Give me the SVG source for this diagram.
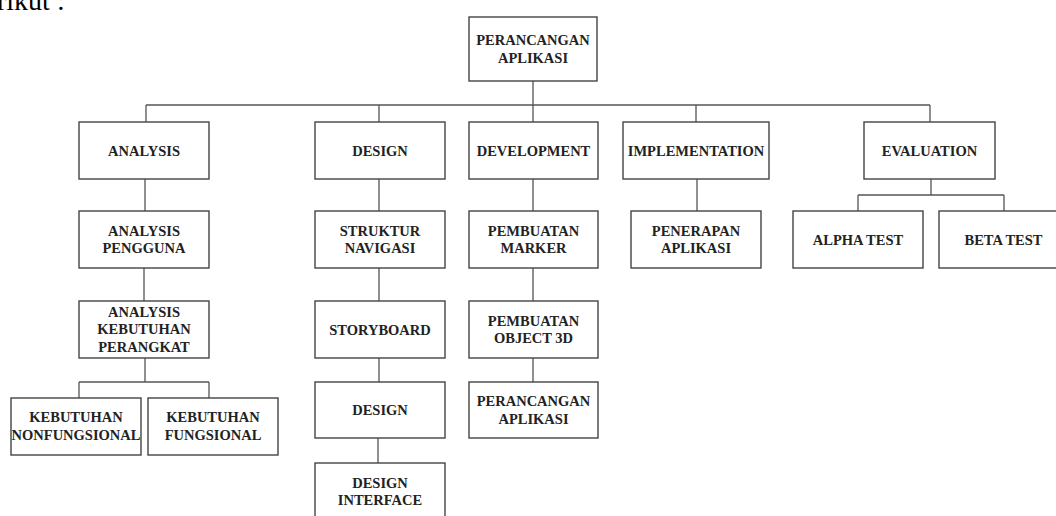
<svg xmlns="http://www.w3.org/2000/svg" width="1056" height="516" viewBox="0 0 1056 516">
<style>
.b{fill:#fff;stroke:#444;stroke-width:1.4}
.t{font-family:"Liberation Serif","Times New Roman",serif;font-weight:bold;font-size:14.5px;fill:#222;text-anchor:middle}
.c{fill:none;stroke:#555;stroke-width:1.3}
.p{font-family:"Liberation Serif","Times New Roman",serif;font-size:28px;fill:#000}
</style>
<rect width="1056" height="516" fill="#fff"/>
<text class="p" x="-3" y="10">rikut :</text>
<g id="connectors">
<path class="c" d="M533 81V105M146 105H930M146 105V122M379 105V122M533 105V122M696 105V122M930 105V122"/>
<path class="c" d="M145 179V211M144 268V301M145 358V382M79 382H209M79 382V398M209 382V398"/>
<path class="c" d="M379 179V211M379 268V301M379 358V382M378 438V463"/>
<path class="c" d="M533 179V211M533 268V301M533 358V382"/>
<path class="c" d="M697 179V211"/>
<path class="c" d="M931 179V195M858 195H1004M858 195V211M1004 195V211"/>
</g>
<g id="root"><rect class="b" x="469" y="17" width="128" height="64"/><text class="t" x="533" y="45">PERANCANGAN</text><text class="t" x="533" y="62.5">APLIKASI</text></g>
<g id="analysis"><rect class="b" x="79" y="122" width="130" height="57"/><text class="t" x="144" y="155.5">ANALYSIS</text></g>
<g id="analysis-pengguna"><rect class="b" x="79" y="211" width="130" height="57"/><text class="t" x="144" y="235.5">ANALYSIS</text><text class="t" x="144" y="253">PENGGUNA</text></g>
<g id="analysis-kebutuhan"><rect class="b" x="79" y="301" width="130" height="57"/><text class="t" x="144" y="316.5">ANALYSIS</text><text class="t" x="144" y="334">KEBUTUHAN</text><text class="t" x="144" y="351.5">PERANGKAT</text></g>
<g id="nonfungsional"><rect class="b" x="11" y="398" width="130" height="57"/><text class="t" x="76" y="422">KEBUTUHAN</text><text class="t" x="76" y="439.5">NONFUNGSIONAL</text></g>
<g id="fungsional"><rect class="b" x="148" y="398" width="130" height="57"/><text class="t" x="213" y="422">KEBUTUHAN</text><text class="t" x="213" y="439.5">FUNGSIONAL</text></g>
<g id="design"><rect class="b" x="315" y="122" width="130" height="57"/><text class="t" x="380" y="155.5">DESIGN</text></g>
<g id="struktur"><rect class="b" x="315" y="211" width="130" height="57"/><text class="t" x="380" y="235.5">STRUKTUR</text><text class="t" x="380" y="253">NAVIGASI</text></g>
<g id="storyboard"><rect class="b" x="315" y="301" width="130" height="57"/><text class="t" x="380" y="334.5">STORYBOARD</text></g>
<g id="design2"><rect class="b" x="315" y="382" width="130" height="56"/><text class="t" x="380" y="415">DESIGN</text></g>
<g id="design-interface"><rect class="b" x="315" y="463" width="130" height="57"/><text class="t" x="380" y="487.5">DESIGN</text><text class="t" x="380" y="505">INTERFACE</text></g>
<g id="development"><rect class="b" x="469" y="122" width="129" height="57"/><text class="t" x="533.5" y="155.5">DEVELOPMENT</text></g>
<g id="marker"><rect class="b" x="469" y="211" width="129" height="57"/><text class="t" x="533.5" y="235.5">PEMBUATAN</text><text class="t" x="533.5" y="253">MARKER</text></g>
<g id="object3d"><rect class="b" x="469" y="301" width="129" height="57"/><text class="t" x="533.5" y="325.5">PEMBUATAN</text><text class="t" x="533.5" y="343">OBJECT 3D</text></g>
<g id="perancangan2"><rect class="b" x="469" y="382" width="129" height="56"/><text class="t" x="533.5" y="406">PERANCANGAN</text><text class="t" x="533.5" y="423.5">APLIKASI</text></g>
<g id="implementation"><rect class="b" x="623" y="122" width="146" height="57"/><text class="t" x="696" y="155.5">IMPLEMENTATION</text></g>
<g id="penerapan"><rect class="b" x="631" y="211" width="130" height="57"/><text class="t" x="696" y="235.5">PENERAPAN</text><text class="t" x="696" y="253">APLIKASI</text></g>
<g id="evaluation"><rect class="b" x="864" y="122" width="131" height="57"/><text class="t" x="929.5" y="155.5">EVALUATION</text></g>
<g id="alpha"><rect class="b" x="793" y="211" width="130" height="57"/><text class="t" x="858" y="244.5">ALPHA TEST</text></g>
<g id="beta"><rect class="b" x="939" y="211" width="122" height="57"/><text class="t" x="1003.5" y="244.5">BETA TEST</text></g>
</svg>
